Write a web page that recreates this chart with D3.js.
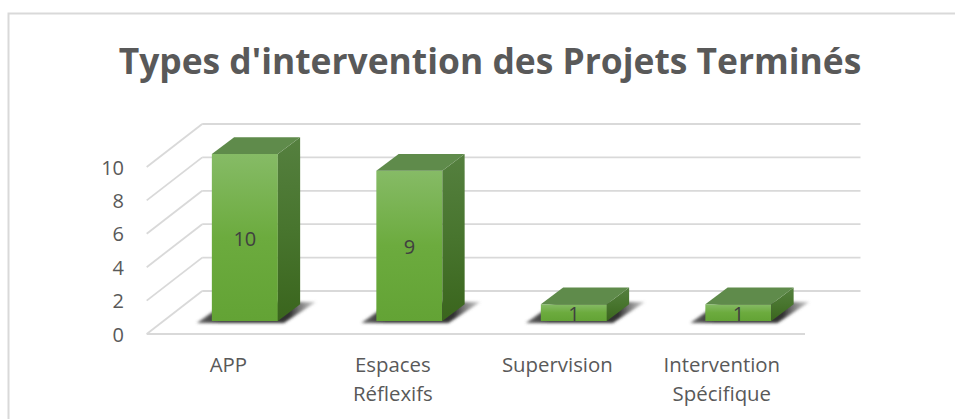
<!DOCTYPE html>
<html><head><meta charset="utf-8">
<script src="https://d3js.org/d3.v7.min.js"></script>
<style>html,body{margin:0;padding:0;background:#fff}svg{display:block}</style>
</head><body><svg id="c" width="955" height="419"></svg>
<script>
const titleText = "Types d'intervention des Projets Terminés";
const categories = ["APP", "Espaces Réflexifs", "Supervision", "Intervention Spécifique"];
const categoryLines = [["APP"], ["Espaces", "Réflexifs"], ["Supervision"], ["Intervention", "Spécifique"]];
const values = [10, 9, 1, 1];
const yTicks = [0, 2, 4, 6, 8, 10];
const font = "'Open Sans','Noto Sans',sans-serif";

const svg = d3.select("#c");
const defs = svg.append("defs");
function grad(id, stops){
  const g = defs.append("linearGradient").attr("id", id).attr("x1",0).attr("x2",0).attr("y1",0).attr("y2",1);
  stops.forEach(s => g.append("stop").attr("offset", s[0]).attr("stop-color", s[1]));
}
grad("front", [[0,"#86bb66"],[0.5,"#6cab3e"],[1,"#63a335"]]);
grad("side", [[0,"#55803f"],[0.5,"#48752e"],[1,"#3a651d"]]);
const sg = defs.append("linearGradient").attr("id","shadow").attr("x1",0).attr("x2",1).attr("y1",0).attr("y2",0);
[[0,"#555",0.9],[0.2,"#333",1],[0.78,"#333",1],[1,"#777",0.35]].forEach(s =>
  sg.append("stop").attr("offset",s[0]).attr("stop-color",s[1]).attr("stop-opacity",s[2]));
defs.append("filter").attr("id","blur").attr("x","-30%").attr("y","-100%").attr("width","160%").attr("height","300%")
  .append("feGaussianBlur").attr("stdDeviation",1.8);

// frame
svg.append("path").attr("d","M8.5 419V13.5H955").attr("fill","none").attr("stroke","#d9d9d9").attr("stroke-width",2);

svg.append("text").text(titleText).attr("x",490).attr("y",74).attr("text-anchor","middle")
  .attr("font-family",font).attr("font-weight",700).attr("font-size",35.4).attr("fill","#595959");

const floorY = 334, depthX = 55.5, depthY = 43;
const y = d3.scaleLinear().domain([0,10]).range([floorY, floorY-167]);
const x = d3.scaleBand().domain(categories).range([162.6, 820.6]).paddingInner(0.6).paddingOuter(0.3);
const barW = 66, bdx = 22.3, bdy = 16.7, barBase = 321;
const h = d3.scaleLinear().domain([0,10]).range([0,167]);

const grid = svg.append("g").attr("fill","none").attr("stroke","#d9d9d9").attr("stroke-width",1.8);
yTicks.forEach(t => {
  const yy = y(t);
  grid.append("line").attr("x1",146.7).attr("y1",yy).attr("x2",146.7+depthX).attr("y2",yy-depthY);
  if (t === 0) grid.append("line").attr("x1",146.7).attr("y1",yy).attr("x2",805).attr("y2",yy);
  grid.append("line").attr("x1",146.7+depthX).attr("y1",yy-depthY).attr("x2",146.7+depthX+658.3).attr("y2",yy-depthY);
});

svg.append("g").selectAll("text").data(yTicks).join("text")
  .attr("x",124).attr("y",d=>y(d)+7.5).attr("text-anchor","end").text(d=>d)
  .attr("font-family",font).attr("font-size",20).attr("fill","#595959");

const barX = d => x(d) + (x.bandwidth()-barW)/2;
const bars = svg.append("g").selectAll("g").data(categories).join("g");
bars.each(function(c,i){
  const g = d3.select(this), l = barX(c), r = l+barW, H = h(values[i]), t = barBase-H;
  const pts = a => a.map(p=>p.join(",")).join(" ");
  g.append("polygon").attr("points",pts([[l-15,barBase+2],[r+6,barBase+2],[r+38,barBase-19],[l+15,barBase-19]]))
    .attr("fill","url(#shadow)").attr("filter","url(#blur)");
  g.append("rect").attr("x",l).attr("y",t).attr("width",barW).attr("height",H).attr("fill","url(#front)");
  g.append("polygon").attr("points",pts([[r,t],[r+bdx,t-bdy],[r+bdx,barBase-bdy],[r,barBase]])).attr("fill","url(#side)");
  g.append("polygon").attr("points",pts([[l,t],[l+bdx,t-bdy],[r+bdx,t-bdy],[r,t]])).attr("fill","#5f8b4b");
  g.append("text").attr("x",(l+r)/2).attr("y",(t+barBase)/2+8.4).attr("text-anchor","middle")
    .text(values[i]).attr("font-family",font).attr("font-size",20).attr("fill","#404040");
  categoryLines[i].forEach((s,k)=>g.append("text").attr("x",(l+r)/2-16.5).attr("y",372+k*29).attr("text-anchor","middle")
    .text(s).attr("font-family",font).attr("font-size",20.4).attr("fill","#595959"));
});
</script></body></html>
